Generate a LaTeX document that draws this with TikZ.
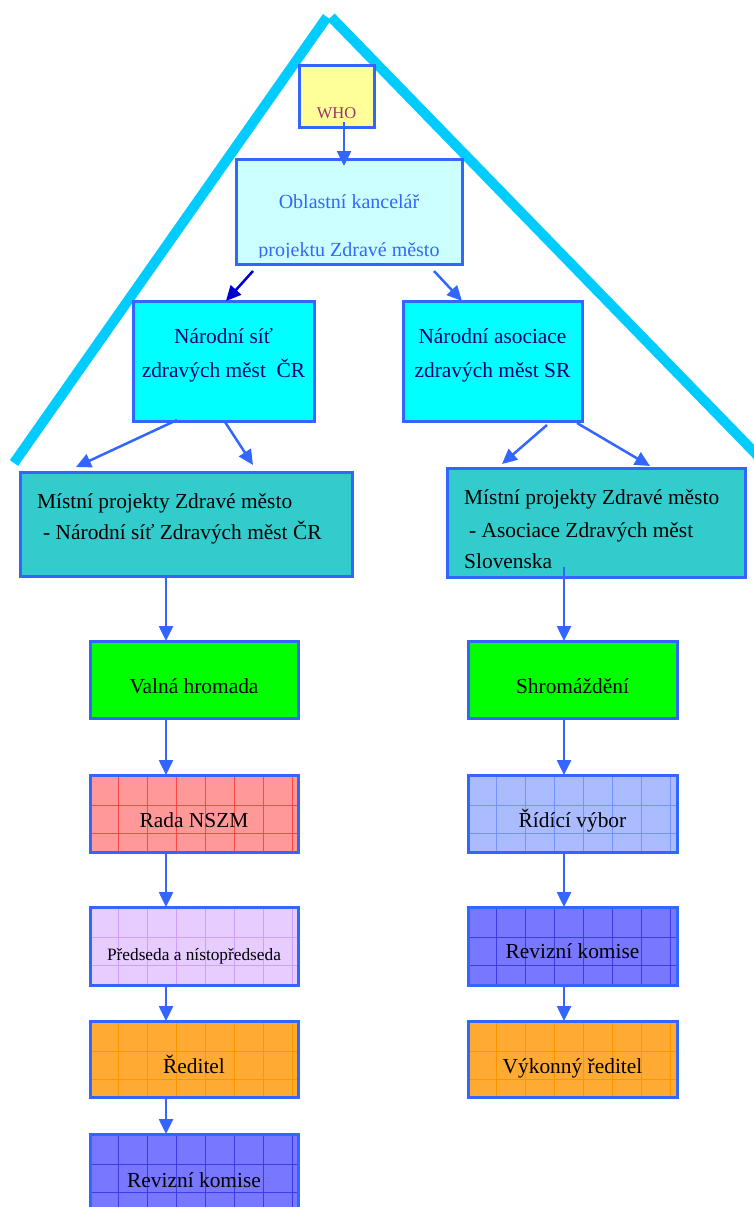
\documentclass[tikz,border=0pt]{standalone}
\usepackage{fontspec}
\setmainfont{Liberation Serif}
\usetikzlibrary{arrows.meta,calc}
\definecolor{roof}{RGB}{0,204,255}
\definecolor{edge}{RGB}{51,102,255}
\definecolor{darkarr}{RGB}{0,0,204}
\definecolor{whofill}{RGB}{255,255,153}
\definecolor{whotext}{RGB}{153,51,102}
\definecolor{oblfill}{RGB}{204,255,255}
\definecolor{nsfill}{RGB}{0,255,255}
\definecolor{nstext}{RGB}{0,0,120}
\definecolor{mpfill}{RGB}{51,204,204}
\definecolor{green}{RGB}{0,255,0}
\definecolor{radafill}{RGB}{255,153,153}
\definecolor{radagrid}{RGB}{255,70,70}
\definecolor{predfill}{RGB}{230,204,255}
\definecolor{predgrid}{RGB}{205,160,255}
\definecolor{redfill}{RGB}{255,170,51}
\definecolor{redgrid}{RGB}{255,150,0}
\definecolor{revfill}{RGB}{119,119,255}
\definecolor{revgrid}{RGB}{60,60,230}
\definecolor{ridfill}{RGB}{170,187,255}
\definecolor{ridgrid}{RGB}{115,145,255}
\begin{document}
\begin{tikzpicture}[x=1pt,y=1pt,
  box/.style={draw=edge,line width=3pt,rectangle,inner sep=0pt,outer sep=0pt},
  arr/.style={edge,line width=2.5pt,-{Triangle[length=15pt,width=14pt]}},
  darr/.style={darkarr,line width=2.5pt,-{Triangle[length=15pt,width=14pt]}},
  lab/.style={anchor=base,inner sep=0pt,font=\fontsize{21.4}{24}\selectfont},
  roofline/.style={roof,line width=10pt,line cap=butt},
  gridded/.style={path picture={
    \foreach \k in {0,...,6}{\draw[#1,line width=0.7pt] ($(path picture bounding box.north west)+({28+29*\k},0)$) -- ++(0,-200);}
    \foreach \k in {0,1,2}{\draw[#1,line width=0.7pt] ($(path picture bounding box.north west)+(0,{-30-28*\k})$) -- ++(300,0);}
  }},
  colbox/.style={box,minimum width=208pt,minimum height=77pt}
]
\clip (0,0) rectangle (754,-1207);
% roof
\coordinate (roofL) at (14,-463);
\coordinate (roofR) at (758,-456);
\draw[roofline] (roofL) -- (327,-17);
\draw[roofline] (331,-17) -- (roofR);

% column coordinates
\coordinate (colL) at (166,0);
\coordinate (colR) at (564,0);

% boxes
\node[box,fill=whofill,minimum width=75pt,minimum height=61pt] (who) at (336.5,-96.5) {};
\node[lab,text=whotext,font=\fontsize{16.5}{20}\selectfont] (whot) at (336.5,-118) {WHO};

\node[box,fill=oblfill,minimum width=226pt,minimum height=105pt] (obl) at (349,-211.5) {};
\begin{scope}
\clip (236,-159) rectangle (462,-257.5);
\node[lab,text=edge,font=\fontsize{20}{24}\selectfont] (oblt1) at (349,-208) {Oblastní kancelář};
\node[lab,text=edge,font=\fontsize{20}{24}\selectfont] (oblt2) at (349,-256) {projektu Zdravé město};
\end{scope}

\node[box,fill=nsfill,minimum width=181pt,minimum height=120pt] (nsc) at (223.5,-361) {};
\node[lab,text=nstext] (nsct1) at (223.5,-343) {Národní síť};
\node[lab,text=nstext] (nsct2) at (223.5,-377) {zdravých měst~ ČR};

\node[box,fill=nsfill,minimum width=179pt,minimum height=120pt] (nas) at (492.5,-361) {};
\node[lab,text=nstext] (nast1) at (492.5,-343) {Národní asociace};
\node[lab,text=nstext] (nast2) at (492.5,-377) {zdravých měst SR};

\node[box,fill=mpfill,minimum width=332pt,minimum height=104pt] (mcr) at (186,-524) {};
\node[lab,anchor=base west] (mcrt1) at (37,-508) {Místní projekty Zdravé město};
\node[lab,anchor=base west] (mcrt2) at (43,-539) {- Národní síť Zdravých měst ČR};

\node[box,fill=mpfill,minimum width=298pt,minimum height=109pt] (msr) at (596,-522.5) {};
\begin{scope}
\clip (447,-468) rectangle (745,-569.5);
\node[lab,anchor=base west] (msrt1) at (464,-504) {Místní projekty Zdravé město};
\node[lab,anchor=base west] (msrt2) at (469,-537) {- Asociace Zdravých měst};
\node[lab,anchor=base west] (msrt3) at (464,-568) {Slovenska};
\end{scope}

% left column
\node[colbox,fill=green] (valna) at (194,-679.5) {};
\node[lab] (valnat) at (194,-693) {Valná hromada};
\node[colbox,fill=radafill,gridded=radagrid] (rada) at (194,-813.5) {};
\node[lab] (radat) at (194,-827) {Rada NSZM};
\node[colbox,fill=predfill,gridded=predgrid,minimum height=78pt] (pred) at (194,-946) {};
\node[lab,font=\fontsize{17.3}{20}\selectfont] (predt) at (194,-960) {Předseda a nístopředseda};
\node[colbox,fill=redfill,gridded=redgrid,minimum height=76pt] (red) at (194,-1059) {};
\node[lab] (redt) at (194,-1073) {Ředitel};
\node[colbox,fill=revfill,gridded=revgrid] (revl) at (194,-1172.5) {};
\node[lab] (revlt) at (194,-1187) {Revizní komise};

% right column
\node[colbox,fill=green,minimum width=209pt] (shrom) at (572.5,-679.5) {};
\node[lab] (shromt) at (572.5,-693) {Shromáždění};
\node[colbox,fill=ridfill,gridded=ridgrid,minimum width=209pt] (rid) at (572.5,-813.5) {};
\node[lab] (ridt) at (572.5,-827) {Řídící výbor};
\node[colbox,fill=revfill,gridded=revgrid,minimum width=209pt,minimum height=78pt] (revr) at (572.5,-946) {};
\node[lab] (revrt) at (572.5,-958) {Revizní komise};
\node[colbox,fill=redfill,gridded=redgrid,minimum width=209pt,minimum height=76pt] (vyk) at (572.5,-1059) {};
\node[lab] (vykt) at (572.5,-1073) {Výkonný ředitel};

% connectors
\coordinate (whoout) at (344,-122);
\draw[arr] (whoout) -- ($(obl.north -| whoout)+(0,-7)$);
\draw[darr] ($(obl.south west)+(17,-7)$) -- ($(nsc.north west)+(93,0)$);
\draw[arr] ($(obl.south west)+(198,-7)$) -- ($(nas.north west)+(59,0)$);
\draw[arr] ($(nsc.south west)+(44,1)$) -- ($(mcr.north west)+(56,5)$);
\draw[arr] ($(nsc.south west)+(92,-1)$) -- ($(mcr.north west)+(233,7)$);
\draw[arr] ($(nas.south west)+(144,-4)$) -- ($(msr.north west)+(55,4)$);
\draw[arr] ($(nas.south west)+(174,-2)$) -- ($(msr.north west)+(203,2)$);

\draw[arr] (mcr.south -| colL) -- (valna.north -| colL);
\draw[arr] (valna.south -| colL) -- (rada.north -| colL);
\draw[arr] (rada.south -| colL) -- (pred.north -| colL);
\draw[arr] (pred.south -| colL) -- (red.north -| colL);
\draw[arr] (red.south -| colL) -- (revl.north -| colL);

\coordinate (msrout) at (564,-567);
\draw[arr] (msrout) -- (shrom.north -| colR);
\draw[arr] (shrom.south -| colR) -- (rid.north -| colR);
\draw[arr] (rid.south -| colR) -- (revr.north -| colR);
\draw[arr] (revr.south -| colR) -- (vyk.north -| colR);
\end{tikzpicture}
\end{document}
